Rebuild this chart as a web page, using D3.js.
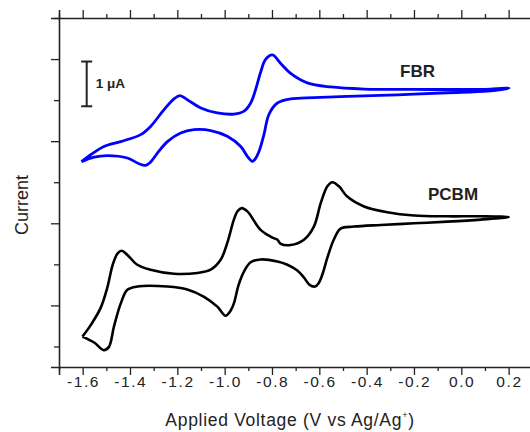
<!DOCTYPE html>
<html lang="en">
<head>
<meta charset="utf-8">
<title>Cyclic voltammetry: FBR and PCBM</title>
<script src="https://d3js.org/d3.v7.min.js"></script>
<style>
  body { margin: 0; background: #fff; }
  svg { display: block; font-family: "Liberation Sans", Arial, sans-serif; }
  .axis path, .axis line { stroke: #222; }
  .tick-label { font-size: 15.5px; letter-spacing: 1.6px; fill: #222; }
</style>
</head>
<body>
<script>
// tick values (voltage, V vs Ag/Ag+)
var xMajor = [-1.6, -1.4, -1.2, -1.0, -0.8, -0.6, -0.4, -0.2, 0.0, 0.2];
var xMinor = [-1.7, -1.5, -1.3, -1.1, -0.9, -0.7, -0.5, -0.3, -0.1, 0.1, 0.3];
var yMajor = [1, 3, 5, 7];
var yMinor = [0, 2, 4, 6, 8];

// FBR loop, [voltage, current (a.u.)]
var fbr = [
  [-1.605, 4.50], [-1.566, 4.67], [-1.510, 4.87], [-1.439, 4.99], [-1.355, 5.16],
  [-1.313, 5.36], [-1.256, 5.77], [-1.214, 6.03], [-1.189, 6.11], [-1.158, 6.01],
  [-1.101, 5.81], [-1.031, 5.69], [-0.961, 5.66], [-0.918, 5.73], [-0.890, 5.93],
  [-0.869, 6.26], [-0.848, 6.68], [-0.827, 6.99], [-0.798, 7.10], [-0.763, 6.89],
  [-0.721, 6.65], [-0.651, 6.42], [-0.552, 6.32], [-0.411, 6.27], [-0.200, 6.26],
  [0.011, 6.26], [0.124, 6.27], [0.201, 6.29],
  [0.110, 6.22], [-0.059, 6.18], [-0.270, 6.13], [-0.482, 6.09], [-0.623, 6.06],
  [-0.721, 6.03], [-0.777, 5.93], [-0.813, 5.65], [-0.834, 5.16], [-0.855, 4.75],
  [-0.873, 4.55], [-0.883, 4.51], [-0.904, 4.63], [-0.932, 4.87], [-0.989, 5.12],
  [-1.059, 5.26], [-1.130, 5.28], [-1.186, 5.20], [-1.242, 4.99], [-1.284, 4.71],
  [-1.313, 4.49], [-1.334, 4.41], [-1.362, 4.45], [-1.411, 4.59], [-1.496, 4.65],
  [-1.552, 4.61], [-1.605, 4.50]
];

// PCBM loop
var pcbm = [
  [-1.601, 0.24], [-1.566, 0.52], [-1.524, 0.94], [-1.496, 1.43], [-1.473, 1.99],
  [-1.453, 2.26], [-1.435, 2.33], [-1.411, 2.23], [-1.369, 1.99], [-1.313, 1.87],
  [-1.214, 1.77], [-1.115, 1.79], [-1.059, 1.87], [-1.017, 2.11], [-0.989, 2.52],
  [-0.961, 3.09], [-0.945, 3.30], [-0.928, 3.37], [-0.904, 3.29], [-0.848, 2.84],
  [-0.798, 2.65], [-0.777, 2.60], [-0.763, 2.50], [-0.721, 2.47], [-0.665, 2.60],
  [-0.623, 2.92], [-0.594, 3.49], [-0.566, 3.90], [-0.545, 4.00], [-0.517, 3.90],
  [-0.482, 3.65], [-0.411, 3.41], [-0.313, 3.27], [-0.200, 3.19], [-0.059, 3.17],
  [0.082, 3.17], [0.201, 3.15],
  [0.082, 3.09], [-0.059, 3.04], [-0.200, 3.00], [-0.341, 2.96], [-0.454, 2.92],
  [-0.510, 2.87], [-0.539, 2.60], [-0.565, 2.18], [-0.586, 1.77], [-0.603, 1.54],
  [-0.618, 1.46], [-0.641, 1.50], [-0.665, 1.68], [-0.693, 1.85],
  [-0.735, 1.99], [-0.777, 2.07], [-0.848, 2.12], [-0.890, 2.05],
  [-0.918, 1.83], [-0.941, 1.50], [-0.961, 1.05], [-0.975, 0.87], [-0.996, 0.75],
  [-1.031, 0.97], [-1.087, 1.21], [-1.158, 1.39], [-1.242, 1.46], [-1.369, 1.46],
  [-1.411, 1.38], [-1.439, 1.05], [-1.468, 0.48], [-1.489, -0.01], [-1.511, -0.09],
  [-1.550, 0.09], [-1.601, 0.24]
];

// 1 uA scale bar: voltage, top, bottom
var scaleBar = [-1.583, 6.94, 5.85];

var width = 530, height = 432;
var margin = {top: 18, left: 59, bottom: 65};

var svg = d3.select("body").append("svg")
    .attr("width", width)
    .attr("height", height);

var x = d3.scaleLinear().domain([-1.7, 0.3]).range([margin.left, margin.left + 473.3]);
var y = d3.scaleLinear().domain([-0.5, 8]).range([height - margin.bottom, margin.top]);

var plotBottom = height - margin.bottom;

// bottom axis
var bottomAxis = svg.append("g").attr("class", "axis")
    .attr("transform", "translate(0," + plotBottom + ")");
bottomAxis.call(d3.axisBottom(x).tickValues(xMajor).tickSize(8).tickFormat(""));
bottomAxis.append("g")
    .call(d3.axisBottom(x).tickValues(xMinor).tickSize(4).tickFormat(""))
    .select(".domain").remove();
bottomAxis.selectAll(".domain").attr("stroke-width", 1.6);
bottomAxis.selectAll("line").attr("stroke-width", 1.3);

svg.append("g").selectAll("text")
    .data(xMajor)
    .enter().append("text")
    .attr("class", "tick-label")
    .attr("x", function(d) { return x(d) + 0.8; })
    .attr("y", plotBottom + 20)
    .attr("text-anchor", "middle")
    .text(function(d) { return d3.format(".1f")(d).replace("−", "-"); });

// top axis
var topAxis = svg.append("g").attr("class", "axis")
    .attr("transform", "translate(0," + margin.top + ")");
topAxis.call(d3.axisTop(x).tickValues(xMajor).tickSize(8).tickFormat(""));
topAxis.append("g")
    .call(d3.axisTop(x).tickValues(xMinor).tickSize(4).tickFormat(""))
    .select(".domain").remove();
topAxis.selectAll(".domain").attr("stroke-width", 1.6);
topAxis.selectAll("line").attr("stroke-width", 1.3);

// left axis
var leftAxis = svg.append("g").attr("class", "axis")
    .attr("transform", "translate(" + margin.left + ",0)");
leftAxis.call(d3.axisLeft(y).tickValues(yMajor).tickSize(8).tickFormat(""));
leftAxis.append("g")
    .call(d3.axisLeft(y).tickValues(yMinor).tickSize(5).tickFormat(""))
    .select(".domain").remove();
leftAxis.selectAll(".domain").attr("stroke-width", 1.6);
leftAxis.selectAll("line").attr("stroke-width", 1.3);

// axis titles
var xTitle = svg.append("text")
    .attr("x", 290)
    .attr("y", 426)
    .attr("text-anchor", "middle")
    .attr("font-size", 17.5)
    .attr("letter-spacing", 0.7)
    .attr("fill", "#222")
    .text("Applied Voltage (V vs Ag/Ag");
xTitle.append("tspan")
    .attr("font-size", 9)
    .attr("dy", -8)
    .text("+");
xTitle.append("tspan")
    .attr("dy", 8)
    .text(")");

svg.append("text")
    .attr("transform", "translate(28,205) rotate(-90)")
    .attr("text-anchor", "middle")
    .attr("font-size", 18)
    .attr("fill", "#222")
    .text("Current");

// curves
var line = d3.line()
    .x(function(d) { return x(d[0]); })
    .y(function(d) { return y(d[1]); })
    .curve(d3.curveCatmullRom.alpha(0.5));

svg.append("path")
    .datum(pcbm)
    .attr("fill", "none")
    .attr("stroke", "#000")
    .attr("stroke-width", 2.6)
    .attr("stroke-linejoin", "round")
    .attr("d", line);

svg.append("path")
    .datum(fbr)
    .attr("fill", "none")
    .attr("stroke", "#0000ff")
    .attr("stroke-width", 2.8)
    .attr("stroke-linejoin", "round")
    .attr("d", line);

// scale bar
var sb = svg.append("g").attr("stroke", "#222").attr("stroke-width", 2);
sb.append("line")
    .attr("x1", x(scaleBar[0])).attr("x2", x(scaleBar[0]))
    .attr("y1", y(scaleBar[1])).attr("y2", y(scaleBar[2]));
[scaleBar[1], scaleBar[2]].forEach(function(v) {
  sb.append("line")
    .attr("x1", x(scaleBar[0]) - 5.5).attr("x2", x(scaleBar[0]) + 5.5)
    .attr("y1", y(v)).attr("y2", y(v));
});
svg.append("text")
    .attr("x", x(scaleBar[0]) + 9)
    .attr("y", 88)
    .attr("font-size", 13.5)
    .attr("font-weight", "bold")
    .attr("fill", "#222")
    .text("1 μA");

// series labels
svg.append("text")
    .attr("x", x(-0.185))
    .attr("y", y(6.57))
    .attr("text-anchor", "middle")
    .attr("font-size", 17)
    .attr("font-weight", "bold")
    .attr("fill", "#222")
    .text("FBR");

svg.append("text")
    .attr("x", x(-0.035))
    .attr("y", y(3.56))
    .attr("text-anchor", "middle")
    .attr("font-size", 17)
    .attr("font-weight", "bold")
    .attr("fill", "#222")
    .text("PCBM");
</script>
</body>
</html>
